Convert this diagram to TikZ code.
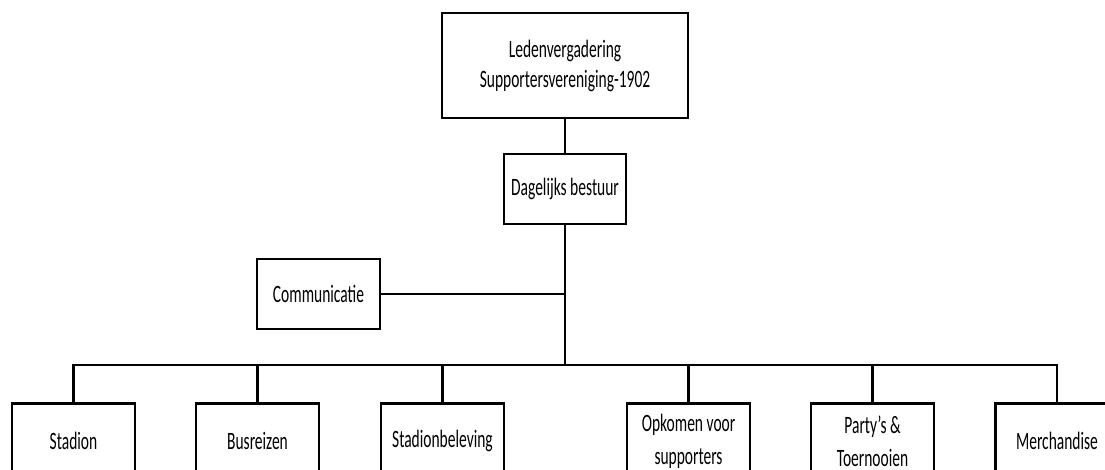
\documentclass[tikz,border=0pt]{standalone}
\usepackage{fontspec}
\setmainfont{Carlito}[FakeStretch=0.62]

\begin{document}
\begin{tikzpicture}[x=1pt, y=-1pt, % Pixel als Einheit, y nach unten
  vak/.style={draw, line width=2.6pt, align=center, inner sep=0pt, font=\fontsize{25}{30}\selectfont},
  lijn/.style={line width=2.2pt}]

\clip (0,0) rectangle (1105,470); % Rahmen

% Kaesten oben
\node[vak, minimum width=246pt, minimum height=105pt] (leden) at (565,65.5) {Ledenvergadering\\Supportersvereniging-1902};
\node[vak, minimum width=122pt, minimum height=70pt] (bestuur) at (565,189) {Dagelijks bestuur};
\node[vak, minimum width=123pt, minimum height=70pt] (comm) at (318.5,294) {Communicatie};

% Verbindungen
\coordinate (knoop) at (565,365); % Verteiler
\draw[lijn] (leden) -- (bestuur);
\draw[lijn] (bestuur) -- (knoop);
\draw[lijn] (comm) -- (comm -| knoop);

% Kaesten unten
\foreach \id/\x/\txt in {stadion/73.5/Stadion, bus/257.5/Busreizen, beleving/442.5/Stadionbeleving, opkomen/688.5/Opkomen voor\\supporters, party/872.5/Party's \&\\Toernooien, merch/1057/Merchandise} {
  \node[vak, font=\fontsize{25}{33}\selectfont, minimum width=123pt, minimum height=76pt, anchor=north] (\id) at (\x,402) {\txt};
  \draw[lijn] (\id.north) -- (\id.north |- knoop); % Linie nach oben
}
\draw[lijn] (stadion.north) -- (stadion.north |- knoop) -- (merch.north |- knoop) -- (merch.north);

\end{tikzpicture}
\end{document}
